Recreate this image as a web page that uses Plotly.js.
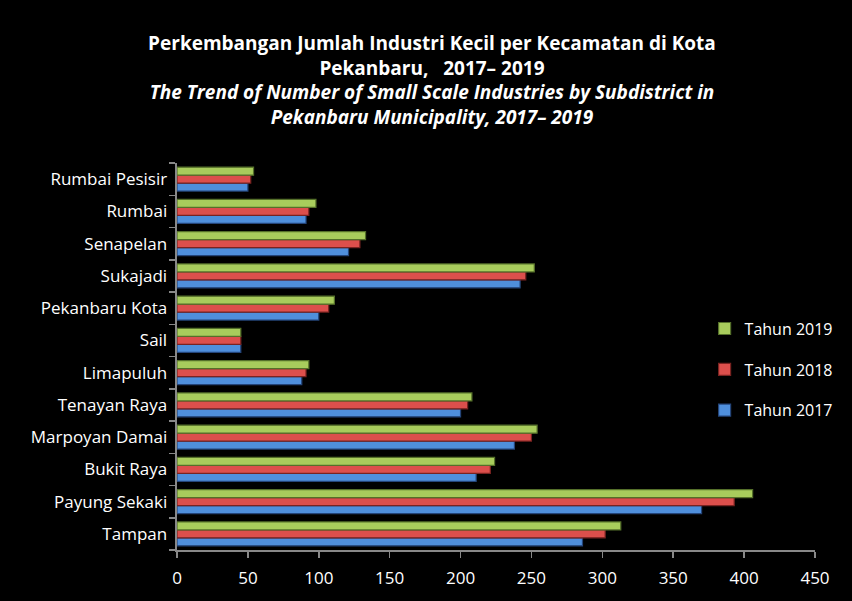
<!DOCTYPE html>
<html>
<head>
<meta charset="utf-8">
<script src="https://cdn.plot.ly/plotly-3.0.1.min.js"></script>
<style>html,body{margin:0;padding:0;background:#000;}#chart{width:852px;height:601px;}</style>
</head>
<body>
<div id="chart"></div>
<script>
const categories = ["Tampan", "Payung Sekaki", "Bukit Raya", "Marpoyan Damai", "Tenayan Raya", "Limapuluh", "Sail", "Pekanbaru Kota", "Sukajadi", "Senapelan", "Rumbai", "Rumbai Pesisir"];
const tahun2017 = [286, 370, 211, 238, 200, 88, 45, 100, 242, 121, 91, 50];
const tahun2018 = [302, 393, 221, 250, 205, 91, 45, 107, 246, 129, 93, 52];
const tahun2019 = [313, 406, 224, 254, 208, 93, 45, 111, 252, 133, 98, 54];
const seriesNames = ["Tahun 2017", "Tahun 2018", "Tahun 2019"];
const xTicks = [0, 50, 100, 150, 200, 250, 300, 350, 400, 450];

const fills = ["#4f8fdc", "#dc4f4c", "#a8cc5c"];
const edges = ["#24457a", "#7a2321", "#55702a"];
const values = [tahun2017, tahun2018, tahun2019];

const traces = values.map((v, i) => ({
  type: "bar",
  orientation: "h",
  name: seriesNames[i],
  legendgroup: "g" + i,
  legendrank: 3 - i,
  y: categories,
  x: v,
  marker: { color: fills[i], line: { color: edges[i], width: 1.2 } },
  hoverinfo: "x+y+name"
}));

const font = "Open Sans, sans-serif";
const layout = {
  width: 852,
  height: 601,
  paper_bgcolor: "#000",
  plot_bgcolor: "#000",
  margin: { l: 177, r: 37, t: 163, b: 51, autoexpand: false },
  barmode: "group",
  bargap: 0.26,
  bargroupgap: 0,
  showlegend: true,
  title: {
    text: "<b>Perkembangan Jumlah Industri Kecil per Kecamatan di Kota<br>Pekanbaru,   2017– 2019<br><i>The Trend of Number of Small Scale Industries by Subdistrict in<br>Pekanbaru Municipality, 2017– 2019</i></b>",
    font: { family: font, size: 19, color: "#fff" },
    x: 0.507,
    xanchor: "center",
    y: 0.917,
    yanchor: "top",
    yref: "container"
  },
  xaxis: {
    range: [0, 450],
    tickvals: xTicks,
    ticktext: xTicks.map(String),
    showgrid: false,
    zeroline: false,
    showline: true,
    linecolor: "#888",
    linewidth: 2,
    ticks: "outside",
    tickcolor: "#888",
    ticklen: 6,
    tickwidth: 1.5,
    ticklabelstandoff: 6,
    tickfont: { family: font, size: 17, color: "#fff" },
    fixedrange: true
  },
  yaxis: {
    categoryorder: "array",
    categoryarray: categories,
    showgrid: false,
    zeroline: false,
    showline: true,
    linecolor: "#888",
    linewidth: 2,
    ticks: "outside",
    tickson: "boundaries",
    tickcolor: "#888",
    ticklen: 6,
    tickwidth: 1.5,
    tickfont: { family: font, size: 17, color: "#fff" },
    ticksuffix: " ",
    fixedrange: true
  },
  legend: {
    xref: "container",
    yref: "container",
    x: 0.827,
    xanchor: "left",
    y: 0.385,
    yanchor: "middle",
    traceorder: "grouped",
    bgcolor: "rgba(0,0,0,0)",
    font: { family: font, size: 16, color: "#fff" },
    itemwidth: 30,
    tracegroupgap: 17
  }
};

Plotly.newPlot("chart", traces, layout, { displayModeBar: false, staticPlot: true });
</script>
</body>
</html>
